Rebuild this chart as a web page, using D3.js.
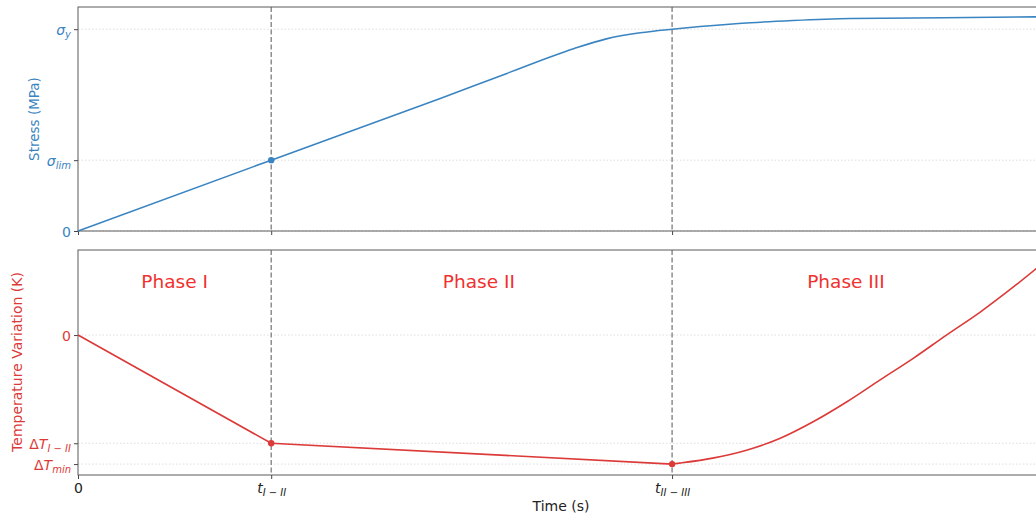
<!DOCTYPE html>
<html>
<head>
<meta charset="utf-8">
<script src="https://cdn.jsdelivr.net/npm/d3@7"></script>
<style>
  body { margin: 0; background: #fff; }
  svg { display: block; }
  text { font-family: "DejaVu Sans", sans-serif; }
</style>
</head>
<body>
<div id="chart"></div>
<script>
// stress curve
var stressTime = [0, 2.0, 3.75, 4.44, 5.13, 5.47, 5.82, 6.15, 6.44, 6.96, 7.4, 8.0, 9.92, 10];
var stressVals = [0, 35.1, 65.7, 78.1, 90.3, 95.2, 98.2, 100, 101.3, 103.2, 104.3, 105.3, 106.1, 106.2];

// temperature variation, bottom panel
var tempTime = [0, 2.0, 6.15, 6.23, 6.57, 6.92, 7.27, 7.61, 7.96, 8.30, 8.65, 8.99, 9.34, 9.68, 9.92, 10];
var tempVals = [0, -1.09, -1.30, -1.29, -1.24, -1.16, -1.04, -0.874, -0.672, -0.454, -0.232, 0.0, 0.232, 0.482, 0.670, 0.735];

// phase boundaries
var transitions = [2.0, 6.15];

var xTicks = [0, 2.0, 6.15];
var xTickLabels = [["0"], ["t", "I \u2212 II"], ["t", "II \u2212 III"]];
var stressTicks = [0, 35.1, 100];
var stressTickLabels = [["0"], ["\u03c3", "lim"], ["\u03c3", "y"]];
var tempTicks = [0, -1.09, -1.30];
var tempTickLabels = [["0"], ["\u0394T", "I \u2212 II"], ["\u0394T", "min"]];

var phaseNames = ["Phase I", "Phase II", "Phase III"];
var phaseX = [1.0, 4.15, 7.95];
var phaseY = 0.47;

var blue = "#3a84c1", red = "#dc3a38", phaseRed = "#f0302e";

var W = 1036, H = 516;
var left = 78, right = 1044;
var top1 = 7, bot1 = 231, top2 = 250, bot2 = 475;

var svg = d3.select("#chart").append("svg")
    .attr("width", W)
    .attr("height", H);

var x = d3.scaleLinear().domain([0, 10]).range([left, right]);
var yS = d3.scaleLinear().domain([0, 111]).range([bot1, top1]);
var yT = d3.scaleLinear().domain([-1.41, 0.857]).range([bot2, top2]);

// writes a mathtext-like label: italic base + smaller subscript
function mathLabel(sel, parts) {
    sel.text("");
    if (parts.length == 1) {
        sel.append("tspan").text(parts[0]);
        return;
    }
    var base = parts[0];
    if (base.charAt(0) == "\u0394") {
        sel.append("tspan").text("\u0394");
        sel.append("tspan").attr("font-style", "italic").text(base.slice(1));
    } else {
        sel.append("tspan").attr("font-style", "italic").text(base);
    }
    sel.append("tspan").attr("font-style", "italic").attr("font-size", "10px")
        .attr("dy", 3).attr("xml:space", "preserve").text(parts[1]);
}

function panel(y, y0, y1, ticks, tickLabels, color, showX) {
    var g = svg.append("g");

    // grid
    g.selectAll("line.grid").data(ticks).enter().append("line")
        .attr("x1", left).attr("x2", right)
        .attr("y1", d => y(d)).attr("y2", d => y(d))
        .attr("stroke", "#d4d4d4").attr("stroke-width", 0.8)
        .attr("stroke-dasharray", "1.5,2");

    // phase boundaries
    g.selectAll("line.vl").data(transitions).enter().append("line")
        .attr("x1", d => x(d)).attr("x2", d => x(d))
        .attr("y1", y0).attr("y2", y1)
        .attr("stroke", "#7d7d7d").attr("stroke-width", 1.3)
        .attr("stroke-dasharray", "5,2.5");

    // y axis
    var ya = g.append("g")
        .attr("transform", "translate(" + left + ",0)")
        .call(d3.axisLeft(y).tickValues(ticks).tickSize(4).tickPadding(3).tickFormat(""));
    ya.select(".domain").remove();
    ya.selectAll(".tick line").attr("stroke", "#444");
    ya.selectAll(".tick text")
        .attr("font-size", "14px").attr("fill", color)
        .attr("font-family", "DejaVu Sans")
        .attr("dy", "0.36em")
        .each(function(d, i) { mathLabel(d3.select(this), tickLabels[i]); });

    // x axis
    var xa = g.append("g")
        .attr("transform", "translate(0," + y1 + ")")
        .call(d3.axisBottom(x).tickValues(xTicks).tickSize(4).tickPadding(4).tickFormat(""));
    xa.select(".domain").remove();
    xa.selectAll(".tick line").attr("stroke", "#444");
    if (showX) {
        xa.selectAll(".tick text")
            .attr("font-size", "14px").attr("fill", "#222")
            .attr("font-family", "DejaVu Sans")
            .each(function(d, i) { mathLabel(d3.select(this), xTickLabels[i]); });
    }

    // frame
    g.append("rect")
        .attr("x", left).attr("y", y0)
        .attr("width", right - left).attr("height", y1 - y0)
        .attr("fill", "none").attr("stroke", "#5a5a5a").attr("stroke-width", 1);
    return g;
}

var gTop = panel(yS, top1, bot1, stressTicks, stressTickLabels, blue, false);
var gBot = panel(yT, top2, bot2, tempTicks, tempTickLabels, red, true);

// stress line
var stressLine = d3.line()
    .x(d => x(d[0])).y(d => yS(d[1]))
    .curve(d3.curveMonotoneX);
gTop.append("path")
    .datum(d3.zip(stressTime, stressVals))
    .attr("fill", "none").attr("stroke", blue).attr("stroke-width", 1.6)
    .attr("d", stressLine);
gTop.append("circle")
    .attr("cx", x(transitions[0])).attr("cy", yS(stressTicks[1]))
    .attr("r", 3.2).attr("fill", blue);

// temperature line: straight through phases I and II, smooth in phase III
var tempPts = d3.zip(tempTime, tempVals);
var linPart = tempPts.filter(d => d[0] <= transitions[1]);
var curvPart = tempPts.filter(d => d[0] >= transitions[1]);
var lineLin = d3.line().x(d => x(d[0])).y(d => yT(d[1]));
var lineCurv = d3.line().x(d => x(d[0])).y(d => yT(d[1])).curve(d3.curveMonotoneX);
gBot.append("path")
    .attr("fill", "none").attr("stroke", red).attr("stroke-width", 1.6)
    .attr("d", lineLin(linPart) + lineCurv(curvPart).replace(/^M/, "L"));
gBot.selectAll("circle.pt").data([[transitions[0], tempTicks[1]], [transitions[1], tempTicks[2]]])
    .enter().append("circle")
    .attr("cx", d => x(d[0])).attr("cy", d => yT(d[1]))
    .attr("r", 3.2).attr("fill", red);

// phase names
gBot.selectAll("text.phase").data(phaseNames).enter().append("text")
    .attr("x", (d, i) => x(phaseX[i])).attr("y", yT(phaseY))
    .attr("text-anchor", "middle")
    .attr("font-family", "Lato, sans-serif").attr("font-size", "18.5px")
    .attr("fill", phaseRed)
    .text(d => d);

// axis labels
svg.append("text")
    .attr("text-anchor", "middle")
    .attr("transform", "translate(39," + (top1 + bot1) / 2 + ")rotate(-90)")
    .attr("font-size", "13.5px").attr("fill", blue)
    .text("Stress (MPa)");
svg.append("text")
    .attr("text-anchor", "middle")
    .attr("transform", "translate(22," + 362 + ")rotate(-90)")
    .attr("font-size", "14px").attr("fill", red)
    .text("Temperature Variation (K)");
svg.append("text")
    .attr("text-anchor", "middle")
    .attr("x", (left + right) / 2).attr("y", 511)
    .attr("font-size", "14px").attr("fill", "#222")
    .text("Time (s)");
</script>
</body>
</html>
